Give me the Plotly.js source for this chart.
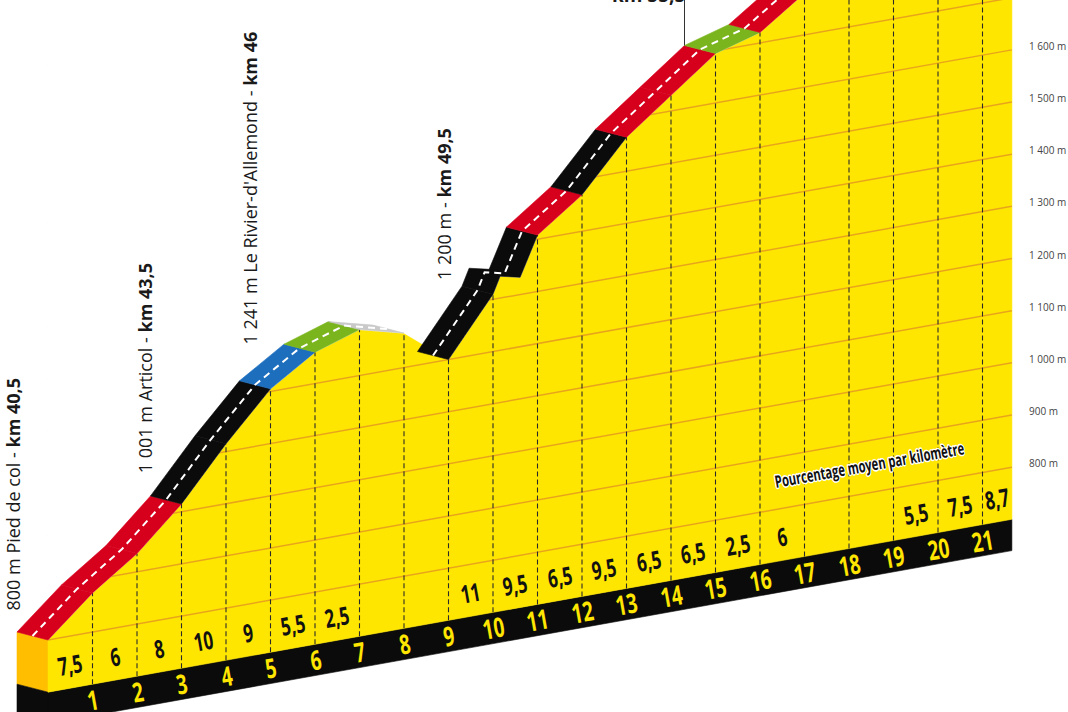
<!DOCTYPE html>
<html><head><meta charset="utf-8">
<script src="https://cdn.plot.ly/plotly-3.0.1.min.js"></script>
<style>html,body{margin:0;padding:0;background:#fff}#chart{width:1068px;height:712px}</style>
</head><body><div id="chart"></div>
<script>
// ---------------- DATA ----------------
const profileKm  = [0, 1, 2, 3, 4, 5, 6, 7, 8, 9, 10, 10.16, 10.61, 11, 12, 13, 14, 15, 16, 17, 18, 19, 20, 21, 21.66];
const profileAlt = [800, 875, 935, 1015, 1115, 1205, 1260, 1288, 1266, 1200, 1310, 1342, 1333, 1408, 1470, 1565, 1630, 1695, 1720, 1780, 1772, 1765, 1820, 1895, 1952];
const kmTicks    = [1, 2, 3, 4, 5, 6, 7, 8, 9, 10, 11, 12, 13, 14, 15, 16, 17, 18, 19, 20, 21];
const kmGrades   = [7.5, 6, 8, 10, 9, 5.5, 2.5, null, null, 11, 9.5, 6.5, 9.5, 6.5, 6.5, 2.5, 6, null, null, 5.5, 7.5, 8.7];
const altLevels  = [800, 900, 1000, 1100, 1200, 1300, 1400, 1500, 1600, 1700, 1800, 1900, 2000];
const altTickLabels = ['800 m', '900 m', '1 000 m', '1 100 m', '1 200 m', '1 300 m', '1 400 m', '1 500 m', '1 600 m'];
const passKm   = [0, 3, 5.5, 9];
const passAlt  = [800, 1001, 1241, 1200];
const passText = ['800 m Pied de col - <b>km 40,5</b>', '1 001 m Articol - <b>km 43,5</b>',
                  '1 241 m Le Rivier-d\'Allemond - <b>km 46</b>', '1 200 m - <b>km 49,5</b>'];
const topPassKm = 15;
const topPassText = '<b>km 55,5</b>';
const legendText = 'Pourcentage moyen par kilomètre';

// ---------------- GEOMETRY / STYLE ----------------
const PX_PER_KM = 44.5, PX_PER_M = 0.5216;
const SKEW_PX = 7.98;                        // ground rise per km, pixels
const SKEW = SKEW_PX / PX_PER_M;             // same in plot units
const DEPTH_KM = -31 / PX_PER_KM, DEPTH_Y = 8 / PX_PER_M;  // road depth offset
const GROUND = 700, BAND_BOTTOM = 640;
const kmEnd = profileKm[profileKm.length - 1];
const Y = (k, a) => a + SKEW * k;
const altAt = k => profileAlt[profileKm.indexOf(k)];
const ANGLE = -Math.atan(SKEW_PX / PX_PER_KM) * 180 / Math.PI;

const C = {yellow:'#FFE600', grid:'#E8A51C', side:'#FFBE00', black:'#0b0b0b', red:'#D6001C',
           blue:'#1E6EBE', green:'#7AB51D', grey:'#C9C9C9', tick:'#2a2a2a'};
const BOLDFONT = 'Open Sans, sans-serif';

function gradeColor(g) {
  if (g >= 9) return C.black;
  if (g >= 6) return C.red;
  if (g >= 3) return C.blue;
  if (g >= 0) return C.green;
  return C.grey;
}
// steepest descent (in %) whose road surface still faces the viewer in this perspective
const hiddenBelow = -(8 * PX_PER_KM / 31 + SKEW_PX) / PX_PER_M / 10;

const traces = [];
function poly(xs, ys, color) {
  traces.push({type:'scatter', mode:'lines', x: xs.concat([xs[0]]), y: ys.concat([ys[0]]),
    fill:'toself', fillcolor: color, line:{color: color, width: 0.6}, hoverinfo:'skip', showlegend:false});
}
function lineTrace(xs, ys, color, width, dash) {
  traces.push({type:'scatter', mode:'lines', x: xs, y: ys, line:{color, width, dash}, hoverinfo:'skip', showlegend:false, connectgaps:false});
}

const a0 = profileAlt[0];
// left side blocks
poly([0, 0, DEPTH_KM, DEPTH_KM], [Y(0, a0), Y(0, GROUND), Y(0, GROUND) + DEPTH_Y, Y(0, a0) + DEPTH_Y], C.side);
poly([0, 0, DEPTH_KM, DEPTH_KM], [Y(0, GROUND), Y(0, BAND_BOTTOM), Y(0, BAND_BOTTOM) + DEPTH_Y, Y(0, GROUND) + DEPTH_Y], C.black);
// ground band
poly([0, kmEnd, kmEnd, 0], [Y(0, GROUND), Y(kmEnd, GROUND), Y(kmEnd, BAND_BOTTOM), Y(0, BAND_BOTTOM)], C.black);
// yellow face
const profY = profileKm.map((k, i) => Y(k, profileAlt[i]));
poly([0, kmEnd].concat(profileKm.slice().reverse()), [Y(0, GROUND), Y(kmEnd, GROUND)].concat(profY.slice().reverse()), C.yellow);
// altitude grid lines
{
  const gx = [], gy = [];
  altLevels.forEach(L => { gx.push(0, kmEnd, null); gy.push(Y(0, L), Y(kmEnd, L), null); });
  lineTrace(gx, gy, C.grid, 1.5);
}
// white mask above profile
poly(profileKm.concat([kmEnd, 0]), profY.concat([6000, 6000]), '#ffffff');
// km dashed lines
{
  const dx = [], dy = [];
  kmTicks.forEach(k => { dx.push(k, k, null); dy.push(Y(k, GROUND), Y(k, altAt(k)), null); });
  lineTrace(dx, dy, C.tick, 1.1, '5px,3px');
}
// road
const bounds = [0].concat(kmTicks, [kmEnd]);
const midX = [], midY = [];
for (let i = 0; i < bounds.length - 1; i++) {
  const a = bounds[i], b = bounds[i + 1];
  const g = kmGrades[i] != null ? kmGrades[i] : (altAt(b) - altAt(a)) / ((b - a) * 10);
  if (g < hiddenBelow) { midX.push(null); midY.push(null); continue; }
  const fk = [], fy = [];
  profileKm.forEach((k, j) => { if (k >= a && k <= b) { fk.push(k); fy.push(profY[j]); } });
  const bk = fk.map(k => k + DEPTH_KM).reverse();
  const by = fy.map(v => v + DEPTH_Y).reverse();
  poly(fk.concat(bk), fy.concat(by), gradeColor(g));
  fk.forEach((k, j) => { midX.push(k + DEPTH_KM / 2); midY.push(fy[j] + DEPTH_Y / 2); });
}
lineTrace(midX, midY, '#ffffff', 2, '7px,5px');
// leader line of the top label
lineTrace([topPassKm + DEPTH_KM, topPassKm + DEPTH_KM], [Y(topPassKm, altAt(topPassKm)) + DEPTH_Y, 6000], '#333', 1);

// ---------------- ANNOTATIONS ----------------
const ann = [];
const squeeze = {};   // annotation index -> horizontal squeeze (condensed look)
// grades
for (let i = 0; i < bounds.length - 1; i++) {
  if (kmGrades[i] == null) continue;
  const xm = (bounds[i] + bounds[i + 1]) / 2;
  squeeze[ann.length] = 0.68;
  ann.push({x: xm, y: Y(xm, GROUND), yshift: 24, text: String(kmGrades[i]).replace('.', ','), showarrow: false,
    textangle: ANGLE, font: {family: BOLDFONT, size: 25, color: '#111', weight: 700}});
}
// km numbers
kmTicks.forEach(k => {
  squeeze[ann.length] = 0.7;
  ann.push({x: k, y: Y(k, GROUND), yshift: -15.5, text: String(k), showarrow: false,
    textangle: ANGLE, font: {family: BOLDFONT, size: 27, color: C.yellow, weight: 700}});
});
// legend text
squeeze[ann.length] = 0.66;
ann.push({x: 18.47, y: Y(18.47, GROUND), yshift: 80, text: legendText, showarrow: false, textangle: ANGLE,
  font: {family: BOLDFONT, size: 17, color: '#111', weight: 700,
         shadow: '1px 1px 0 #fff, -1px -1px 0 #fff, 1px -1px 0 #fff, -1px 1px 0 #fff, 0 1.5px 0 #fff, 0 -1.5px 0 #fff, 1.5px 0 0 #fff, -1.5px 0 0 #fff'}});
// altitude labels
altTickLabels.forEach((t, i) => ann.push({x: kmEnd, y: Y(kmEnd, altLevels[i]), xshift: 15, yshift: 4, xanchor: 'left',
  text: t, showarrow: false, font: {family: 'Open Sans', size: 10, color: '#444'}}));
// pass labels
const passShift = [[-36, 27], [-36.5, 36], [-42.75, 19], [-4.5, 77.6]];
passKm.forEach((k, i) => ann.push({x: k, y: Y(k, passAlt[i]), xshift: passShift[i][0], yshift: passShift[i][1],
  xanchor: 'center', yanchor: 'bottom', textangle: -90, text: passText[i], showarrow: false,
  font: {family: 'Open Sans', size: 18, color: '#1a1a1a'}}));
ann.push({x: topPassKm + DEPTH_KM, xshift: 2, xanchor: 'right', yref: 'paper', y: 1, yanchor: 'bottom', yshift: -10,
  text: topPassText, showarrow: false, font: {family: 'Open Sans', size: 19, color: '#1a1a1a'}});

const layout = {
  width: 1068, height: 712, margin: {l: 0, r: 0, t: 0, b: 0, pad: 0},
  paper_bgcolor: '#fff', plot_bgcolor: '#fff', showlegend: false, hovermode: false,
  xaxis: {range: [-48 / PX_PER_KM, (1068 - 48) / PX_PER_KM], visible: false, fixedrange: true},
  yaxis: {range: [800 - 72 / PX_PER_M, 800 + 640 / PX_PER_M], visible: false, fixedrange: true},
  annotations: ann
};
Plotly.newPlot('chart', traces, layout, {staticPlot: true, displayModeBar: false}).then(gd => {
  // condensed look for the bold labels
  Object.keys(squeeze).forEach(idx => {
    const g = gd.querySelector('.annotation[data-index="' + idx + '"]');
    if (!g) return;
    const t = g.querySelector('text.annotation-text');
    if (!t) return;
    const len = t.getComputedTextLength();
    t.setAttribute('textLength', (len * squeeze[idx]).toFixed(1));
    t.setAttribute('lengthAdjust', 'spacingAndGlyphs');
  });
});
</script></body></html>
